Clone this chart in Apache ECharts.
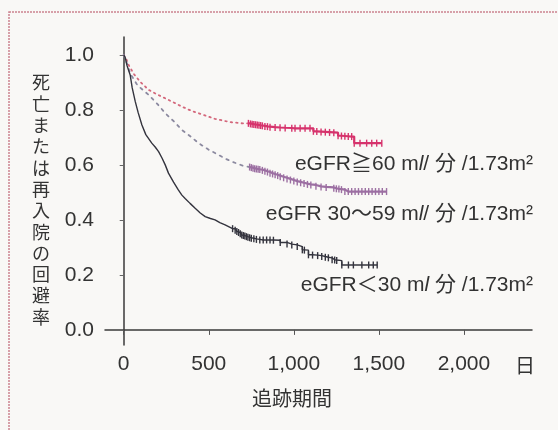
<!DOCTYPE html>
<html>
<head>
<meta charset="utf-8">
<script src="https://cdn.jsdelivr.net/npm/echarts@6/dist/echarts.min.js"></script>
<style>
  html, body { margin: 0; padding: 0; background: #f9f8f6; }
  #main { width: 558px; height: 430px; }
</style>
</head>
<body>
<div id="main"></div>
<script>
// tick labels
var xTicks = [0, 500, 1000, 1500, 2000];
var yTicks = [0, 0.2, 0.4, 0.6, 0.8, 1.0];

// eGFR >= 60 : dotted part, then solid part with censor marks
var ge60Dotted = [[0, 1.0], [15, 0.985], [28, 0.964], [60, 0.93], [100, 0.9], [146, 0.873], [200, 0.855],
  [244, 0.842], [300, 0.825], [342, 0.812], [400, 0.796], [440, 0.788], [500, 0.775], [537, 0.767],
  [600, 0.759], [635, 0.755], [700, 0.751], [733, 0.751]];
var ge60Censored = [[733, 0.751], [745, 0.749], [755, 0.748], [765, 0.747], [775, 0.746], [785, 0.745],
  [795, 0.744], [805, 0.743], [815, 0.742], [830, 0.740], [845, 0.739], [860, 0.737], [890, 0.736],
  [919, 0.735], [949, 0.734], [988, 0.733], [1007, 0.733], [1037, 0.733], [1066, 0.733], [1095, 0.733],
  [1115, 0.722], [1135, 0.721], [1160, 0.720], [1185, 0.719], [1210, 0.718], [1235, 0.717],
  [1260, 0.706], [1280, 0.705], [1300, 0.704], [1320, 0.703], [1340, 0.703], [1355, 0.679],
  [1389, 0.679], [1428, 0.679], [1458, 0.679], [1487, 0.679], [1517, 0.679]];

// eGFR 30-59
var mid30Dotted = [[0, 1.0], [15, 0.975], [38, 0.933], [80, 0.89], [146, 0.855], [200, 0.82], [244, 0.788],
  [300, 0.755], [342, 0.727], [400, 0.70], [440, 0.679], [500, 0.655], [537, 0.643], [600, 0.622],
  [635, 0.612], [700, 0.597], [740, 0.592]];
var mid30Censored = [[740, 0.592], [750, 0.590], [760, 0.588], [770, 0.586], [780, 0.585], [790, 0.584],
  [800, 0.583], [815, 0.580], [830, 0.577], [845, 0.574], [860, 0.570], [875, 0.567], [890, 0.564],
  [905, 0.561], [920, 0.557], [940, 0.553], [960, 0.549], [980, 0.545], [1000, 0.541], [1020, 0.538],
  [1040, 0.535], [1060, 0.532], [1080, 0.529], [1100, 0.527], [1130, 0.522], [1160, 0.520],
  [1190, 0.518], [1235, 0.515], [1250, 0.513], [1265, 0.512], [1280, 0.510], [1300, 0.503],
  [1320, 0.503], [1340, 0.503], [1360, 0.503], [1380, 0.503], [1400, 0.503], [1420, 0.503],
  [1440, 0.503], [1460, 0.503], [1480, 0.503], [1500, 0.503], [1520, 0.503], [1545, 0.503]];

// eGFR < 30
var lt30Early = [[0, 1.0], [9, 0.99], [20, 0.96], [38, 0.927], [50, 0.88], [68, 0.83], [85, 0.79],
  [107, 0.745], [130, 0.71], [165, 0.679], [185, 0.665], [205, 0.648], [225, 0.625], [244, 0.6],
  [263, 0.57], [293, 0.537], [320, 0.51], [342, 0.49], [361, 0.478], [390, 0.46], [420, 0.442],
  [450, 0.425], [479, 0.412], [510, 0.405], [537, 0.40], [565, 0.39], [596, 0.382], [640, 0.368]];
var lt30Censored = [[640, 0.368], [655, 0.362], [665, 0.358], [675, 0.354], [685, 0.35], [694, 0.345],
  [703, 0.343], [712, 0.341], [721, 0.339], [730, 0.337], [740, 0.335], [750, 0.333], [765, 0.331],
  [780, 0.329], [800, 0.327], [820, 0.327], [840, 0.327], [860, 0.327], [880, 0.326], [920, 0.318],
  [960, 0.312], [988, 0.309], [1020, 0.303], [1050, 0.291], [1062, 0.290], [1086, 0.273],
  [1110, 0.272], [1140, 0.270], [1164, 0.267], [1185, 0.264], [1203, 0.262], [1225, 0.255],
  [1240, 0.254], [1252, 0.252], [1282, 0.236], [1321, 0.236], [1350, 0.236], [1400, 0.236],
  [1440, 0.236], [1467, 0.236], [1490, 0.236]];

var FONT = "'Liberation Sans', Arial, 'Noto Sans CJK JP', sans-serif";
var CJK = "'Noto Sans CJK JP', sans-serif";

var myChart = echarts.init(document.getElementById('main'));

function censorLine(name, data, color, width) {
    return {
        name: name, type: 'line', data: data, step: 'end',
        showSymbol: true, symbol: 'rect', symbolSize: [1.4, 7],
        itemStyle: { color: color },
        lineStyle: { color: color, width: width },
        silent: true
    };
}

function curveLabel(text, y) {
    return {
        type: 'text', x: 533, y: y,
        style: {
            text: text,
            font: '21px ' + FONT, fill: '#333', align: 'right', verticalAlign: 'middle',
            rich: { i: { fontStyle: 'italic', fontSize: 21, fontFamily: FONT, fill: '#333' } }
        }
    };
}

option = {
    backgroundColor: '#f9f8f6',
    animation: false,
    grid: { left: 105, right: 26, top: 37, bottom: 85 },
    xAxis: {
        type: 'value',
        min: -110,
        max: 2400,
        axisLine: { lineStyle: { color: '#3a3a3a', width: 1.5 } },
        axisTick: { customValues: xTicks, length: 5, lineStyle: { color: '#555' } },
        axisLabel: {
            customValues: xTicks, margin: 9, color: '#333', fontSize: 21, fontFamily: FONT,
            formatter: function (v) { return v.toLocaleString('en-US'); }
        },
        splitLine: { show: false }
    },
    yAxis: {
        type: 'value',
        min: -0.055,
        max: 1.065,
        axisLine: { show: true, lineStyle: { color: '#3a3a3a', width: 1.5 } },
        axisTick: { show: true, customValues: yTicks, length: 4, lineStyle: { color: '#666' } },
        axisLabel: {
            customValues: yTicks, margin: 11, color: '#333', fontSize: 21, fontFamily: FONT,
            formatter: function (v) { return v.toFixed(1); }
        },
        splitLine: { show: false }
    },
    series: [
        {
            name: 'eGFR≧60 dotted', type: 'line', data: ge60Dotted, showSymbol: false, silent: true,
            lineStyle: { color: '#d4687c', width: 1.8, type: [1.5, 4], cap: 'round' }
        },
        censorLine('eGFR≧60', ge60Censored, '#d6336c', 2.2),
        {
            name: 'eGFR 30-59 dotted', type: 'line', data: mid30Dotted, showSymbol: false, silent: true,
            lineStyle: { color: '#8c8aa0', width: 1.8, type: [2.5, 5], cap: 'round' }
        },
        censorLine('eGFR 30-59', mid30Censored, '#9c6fa2', 2.2),
        {
            name: 'eGFR<30', type: 'line', data: lt30Early, showSymbol: false, silent: true,
            lineStyle: { color: '#34343e', width: 1.4 }
        },
        censorLine('eGFR<30', lt30Censored, '#34343e', 1.4)
    ],
    graphic: [
        {
            type: 'rect', silent: true, z: -1,
            shape: { x: 9, y: 12, width: 600, height: 500 },
            style: { fill: 'none', stroke: '#cc8290', lineWidth: 1.5, lineDash: [2, 1] }
        },
        {
            type: 'text', left: 32, top: 72,
            style: {
                text: '死\n亡\nま\nた\nは\n再\n入\n院\nの\n回\n避\n率',
                font: '18px ' + CJK, fill: '#333', lineHeight: 21.3, align: 'center'
            }
        },
        {
            type: 'text', x: 292, y: 398,
            style: { text: '追跡期間', font: '20px ' + CJK, fill: '#333', align: 'center', verticalAlign: 'middle' }
        },
        {
            type: 'text', x: 525, y: 365,
            style: { text: '日', font: '20px ' + CJK, fill: '#333', align: 'center', verticalAlign: 'middle' }
        },
        curveLabel('eGFR≧60 m{i|l}/ 分 /1.73m²', 164),
        curveLabel('eGFR 30〜59 m{i|l}/ 分 /1.73m²', 214),
        curveLabel('eGFR＜30 m{i|l} 分 /1.73m²', 285)
    ]
};

if (option && typeof option === "object") {
    myChart.setOption(option, true);
    window.onresize = function () {
        myChart.resize();
    }
}
</script>
</body>
</html>
